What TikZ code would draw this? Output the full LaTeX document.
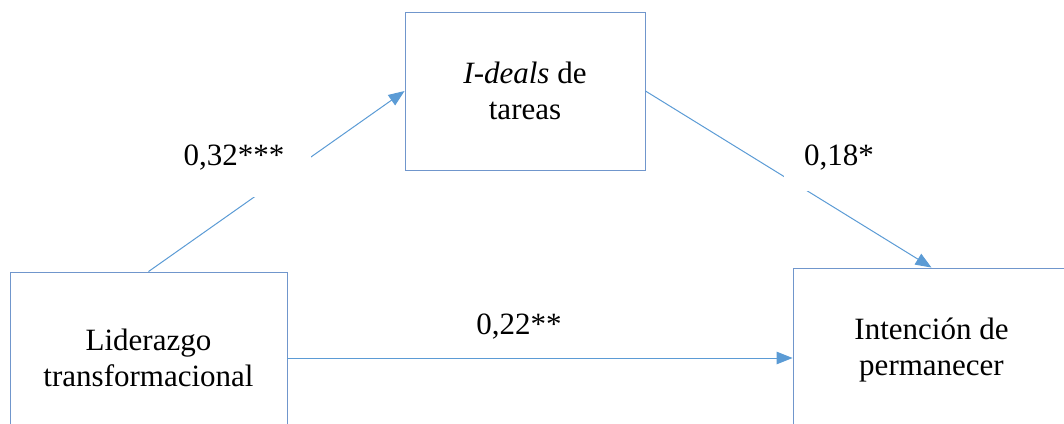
\documentclass[tikz,border=0pt]{standalone}
\usepackage{fontspec}
\setmainfont{LiberationSerif}[Extension=.ttf, UprightFont=*-Regular, ItalicFont=*-Italic, BoldFont=*-Bold, BoldItalicFont=*-BoldItalic]
\usetikzlibrary{arrows.meta}

\definecolor{pathblue}{RGB}{91,155,213}
\definecolor{boxblue}{RGB}{112,150,204}

\begin{document}
\begin{tikzpicture}[x=1pt, y=-1pt,
  varbox/.style={draw=boxblue, line width=0.9pt, rectangle, align=center, inner sep=0pt, font=\fontsize{31}{35.5}\selectfont},
  coef/.style={rectangle, fill=white, inner sep=0pt, font=\fontsize{31}{35.5}\selectfont},
  arrow/.style={-{Triangle[length=16pt, width=12.5pt]}, draw=pathblue, line width=1pt}
]
\useasboundingbox (0,0) rectangle (1064,423);

\node[varbox, minimum width=277pt, minimum height=172pt] (lider) at (148.5,358) {Liderazgo\\transformacional};
\node[varbox, minimum width=240pt, minimum height=158pt] (tareas) at (525,91) {\textit{I-deals} de\\tareas};
\node[varbox, minimum width=277pt, minimum height=164pt] (intencion) at (931.5,350) {Intención de\\permanecer};

\draw[arrow] (lider.north) -- (tareas.west);
\draw[arrow] (tareas.east) -- (intencion.north);
\draw[arrow] (lider.east) -- (lider.east -| intencion.west);

\node[coef, minimum width=154pt, minimum height=78pt] (ca) at (234,158) {0,32***};
\node[coef, minimum width=110pt, minimum height=66pt] (cb) at (839,158) {0,18*};
\node[coef] (cc) at (519,327) {0,22**};

\end{tikzpicture}
\end{document}
